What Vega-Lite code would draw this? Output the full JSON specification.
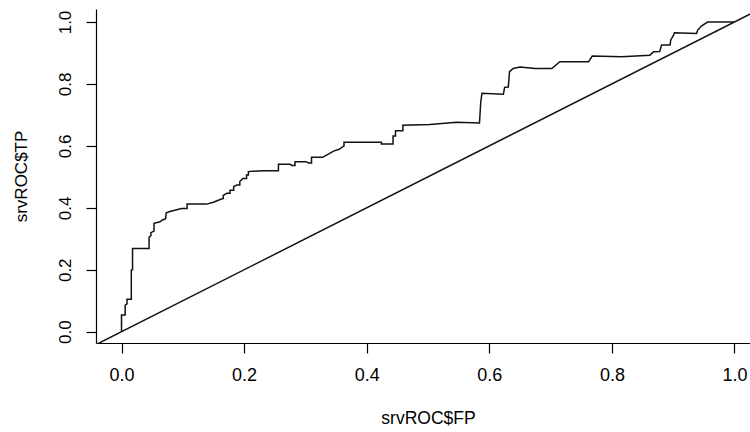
{
  "$schema": "https://vega.github.io/schema/vega-lite/v6.json",
  "width": 654,
  "height": 334,
  "autosize": {"type": "none"},
  "padding": {"left": 96, "top": 9, "right": 0, "bottom": 89},
  "background": "white",
  "config": {
    "view": {"stroke": null},
    "font": "Liberation Sans",
    "axis": {
      "grid": false,
      "domainColor": "black",
      "domainWidth": 1.2,
      "tickColor": "black",
      "tickWidth": 1.2,
      "tickSize": 10,
      "labelColor": "black",
      "labelFont": "Liberation Sans",
      "labelFontSize": 17,
      "titleColor": "black",
      "titleFont": "Liberation Sans",
      "titleFontSize": 17,
      "titleFontWeight": "normal",
      "labelFlush": false,
      "labelOverlap": false
    }
  },
  "datasets": {
    "diag": [
      {"FP": -0.1, "TP": -0.1},
      {"FP": 1.1, "TP": 1.1}
    ],
    "roc": [
      {"FP": 0, "TP": 0},
      {"FP": 0, "TP": 0.054},
      {"FP": 0.006, "TP": 0.054},
      {"FP": 0.006, "TP": 0.086},
      {"FP": 0.009, "TP": 0.09},
      {"FP": 0.009, "TP": 0.105},
      {"FP": 0.016, "TP": 0.105},
      {"FP": 0.016, "TP": 0.199},
      {"FP": 0.018, "TP": 0.2},
      {"FP": 0.018, "TP": 0.269},
      {"FP": 0.045, "TP": 0.269},
      {"FP": 0.045, "TP": 0.305},
      {"FP": 0.048, "TP": 0.31},
      {"FP": 0.048, "TP": 0.32},
      {"FP": 0.053, "TP": 0.325},
      {"FP": 0.053, "TP": 0.35},
      {"FP": 0.063, "TP": 0.355},
      {"FP": 0.066, "TP": 0.36},
      {"FP": 0.072, "TP": 0.365},
      {"FP": 0.073, "TP": 0.384},
      {"FP": 0.079, "TP": 0.388},
      {"FP": 0.09, "TP": 0.394},
      {"FP": 0.098, "TP": 0.398},
      {"FP": 0.107, "TP": 0.398},
      {"FP": 0.107, "TP": 0.412},
      {"FP": 0.139, "TP": 0.412},
      {"FP": 0.15, "TP": 0.418},
      {"FP": 0.161, "TP": 0.427},
      {"FP": 0.166, "TP": 0.43},
      {"FP": 0.166, "TP": 0.44},
      {"FP": 0.172, "TP": 0.447},
      {"FP": 0.177, "TP": 0.447},
      {"FP": 0.177, "TP": 0.457},
      {"FP": 0.183, "TP": 0.457},
      {"FP": 0.183, "TP": 0.468},
      {"FP": 0.188, "TP": 0.474},
      {"FP": 0.193, "TP": 0.474},
      {"FP": 0.193, "TP": 0.485},
      {"FP": 0.198, "TP": 0.495},
      {"FP": 0.204, "TP": 0.495},
      {"FP": 0.204, "TP": 0.506},
      {"FP": 0.207, "TP": 0.506},
      {"FP": 0.207, "TP": 0.517},
      {"FP": 0.231, "TP": 0.52},
      {"FP": 0.256, "TP": 0.52},
      {"FP": 0.256, "TP": 0.541},
      {"FP": 0.275, "TP": 0.541},
      {"FP": 0.278, "TP": 0.537},
      {"FP": 0.283, "TP": 0.537},
      {"FP": 0.283, "TP": 0.549},
      {"FP": 0.301, "TP": 0.549},
      {"FP": 0.305, "TP": 0.545},
      {"FP": 0.31, "TP": 0.545},
      {"FP": 0.31, "TP": 0.563},
      {"FP": 0.328, "TP": 0.563},
      {"FP": 0.336, "TP": 0.572},
      {"FP": 0.346, "TP": 0.583},
      {"FP": 0.355, "TP": 0.589},
      {"FP": 0.363, "TP": 0.6},
      {"FP": 0.363, "TP": 0.612},
      {"FP": 0.424, "TP": 0.612},
      {"FP": 0.424, "TP": 0.606},
      {"FP": 0.443, "TP": 0.606},
      {"FP": 0.443, "TP": 0.632},
      {"FP": 0.447, "TP": 0.632},
      {"FP": 0.447, "TP": 0.649},
      {"FP": 0.459, "TP": 0.649},
      {"FP": 0.459, "TP": 0.667},
      {"FP": 0.503, "TP": 0.669},
      {"FP": 0.547, "TP": 0.676},
      {"FP": 0.584, "TP": 0.674},
      {"FP": 0.586, "TP": 0.74},
      {"FP": 0.588, "TP": 0.77},
      {"FP": 0.623, "TP": 0.767},
      {"FP": 0.625, "TP": 0.789},
      {"FP": 0.631, "TP": 0.79},
      {"FP": 0.633, "TP": 0.84},
      {"FP": 0.639, "TP": 0.85},
      {"FP": 0.65, "TP": 0.855},
      {"FP": 0.675, "TP": 0.85},
      {"FP": 0.702, "TP": 0.85},
      {"FP": 0.715, "TP": 0.872},
      {"FP": 0.762, "TP": 0.872},
      {"FP": 0.768, "TP": 0.89},
      {"FP": 0.816, "TP": 0.888},
      {"FP": 0.862, "TP": 0.893},
      {"FP": 0.868, "TP": 0.904},
      {"FP": 0.878, "TP": 0.905},
      {"FP": 0.881, "TP": 0.926},
      {"FP": 0.895, "TP": 0.926},
      {"FP": 0.896, "TP": 0.942},
      {"FP": 0.9, "TP": 0.955},
      {"FP": 0.902, "TP": 0.965},
      {"FP": 0.938, "TP": 0.963},
      {"FP": 0.94, "TP": 0.974},
      {"FP": 0.946, "TP": 0.987},
      {"FP": 0.956, "TP": 1.0},
      {"FP": 1.0, "TP": 1.0}
    ]
  },
  "layer": [
    {
      "data": {"name": "diag"},
      "mark": {"type": "line", "color": "#111111", "strokeWidth": 1.5, "clip": true},
      "encoding": {
        "x": {"field": "FP", "type": "quantitative"},
        "y": {"field": "TP", "type": "quantitative"}
      }
    },
    {
      "data": {"name": "roc"},
      "mark": {"type": "line", "color": "#111111", "strokeWidth": 1.5, "clip": true},
      "encoding": {
        "x": {
          "field": "FP",
          "type": "quantitative",
          "scale": {"domain": [-0.0416, 1.0253], "nice": false, "zero": false},
          "axis": {
            "values": [0, 0.2, 0.4, 0.6, 0.8, 1.0],
            "format": ".1f",
            "labelFontSize": 18,
            "labelPadding": 13,
            "title": "srvROC$FP",
            "titleFontSize": 17.5,
            "titlePadding": 25,
            "titleX": 332
          }
        },
        "y": {
          "field": "TP",
          "type": "quantitative",
          "scale": {"domain": [-0.0365, 1.042], "nice": false, "zero": false},
          "axis": {
            "values": [0, 0.2, 0.4, 0.6, 0.8, 1.0],
            "format": ".1f",
            "labelAngle": 270,
            "labelAlign": "center",
            "labelBaseline": "bottom",
            "labelPadding": 12,
            "title": "srvROC$TP",
            "titlePadding": 26
          }
        },
        "order": {"value": null}
      }
    },
    {
      "mark": {"type": "rule", "color": "black", "strokeWidth": 1.2},
      "encoding": {"y": {"datum": 1.042}}
    }
  ]
}
